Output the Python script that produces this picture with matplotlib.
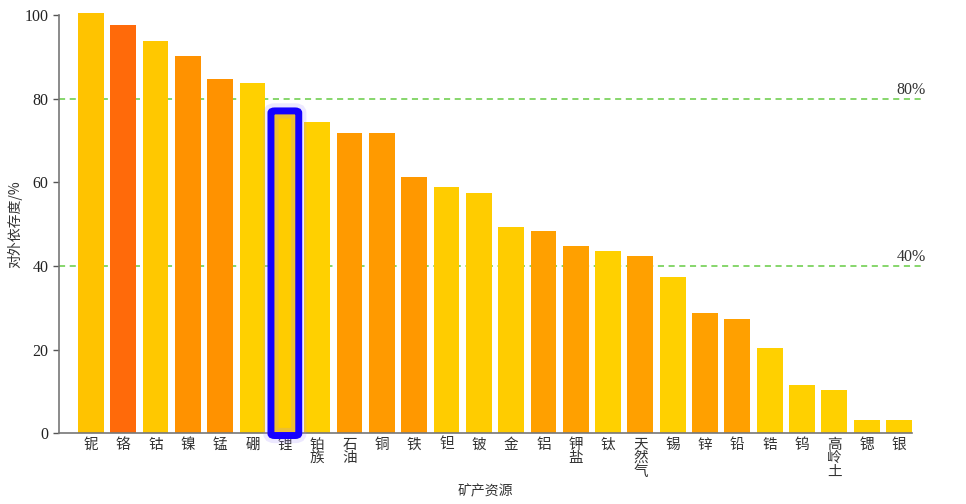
import matplotlib
matplotlib.use('Agg')
import matplotlib.pyplot as plt
from matplotlib.patches import FancyBboxPatch

minerals = ['铌', '铬', '钴', '镍', '锰', '硼', '锂', '铂\n族', '石\n油', '铜', '铁', '钽', '铍',
            '金', '铝', '钾\n盐', '钛', '天\n然\n气', '锡', '锌', '铅', '锆', '钨', '高\n岭\n土', '锶', '银']
dependence = [100.4, 97.6, 93.8, 90.2, 84.7, 83.7, 76.4, 74.5, 71.9, 71.8, 61.3, 58.9, 57.4,
              49.3, 48.4, 44.8, 43.6, 42.4, 37.4, 28.8, 27.3, 20.4, 11.6, 10.5, 3.1, 3.1]
colors = ['#FFC300', '#FF6A0A', '#FFC800', '#FF9200', '#FF9200', '#FFD000', '#FFCC00', '#FFD000',
          '#FF9A00', '#FF9A00', '#FF9800', '#FFCC00', '#FFCC00', '#FFCC00', '#FFA000', '#FFA000',
          '#FFD000', '#FFA000', '#FFD000', '#FFA000', '#FFA000', '#FFD000', '#FFD000', '#FFD000',
          '#FFD000', '#FFD000']
ref_lines = [80, 40]
highlight = 6  # 锂

cjk = ['Noto Sans CJK SC', 'DejaVu Sans']
num_font = 'Liberation Serif'

fig = plt.figure(figsize=(9.66, 5.04), dpi=100)
ax = fig.add_axes([0.061, 0.14, 0.883, 0.83])

x = list(range(len(minerals)))
bars = ax.bar(x, dependence, width=0.8, color=colors, zorder=2)
for b in bars:
    b.set_clip_on(False)

for v in ref_lines:
    ax.axhline(v, xmin=0, xmax=1.015, color='#66CC44', ls=(0, (4, 3)), lw=1.1,
               clip_on=False, zorder=1)
    ax.text(25.37, v + 0.2, f'{v}%', ha='center', va='bottom', fontsize=11.5,
            family=num_font, color='#333333')

ax.set_xlim(-0.99, 25.4)
ax.set_ylim(0, 100)
ax.set_yticks([0, 20, 40, 60, 80, 100])
ax.set_yticklabels(['0', '20', '40', '60', '80', '100'], family=num_font, fontsize=11.5)
ax.set_xticks(x)
ax.set_xticklabels(minerals, family=cjk, fontsize=10.5, va='top', linespacing=0.95)
ax.tick_params(axis='x', length=0, pad=3, colors='#333333')
ax.tick_params(axis='y', length=4, width=1, colors='#555555', labelcolor='#222222')

for s in ['top', 'right']:
    ax.spines[s].set_visible(False)
for s in ['left', 'bottom']:
    ax.spines[s].set_color('#777777')
    ax.spines[s].set_linewidth(1.2)

ax.set_ylabel('对外依存度/%', family=cjk, fontsize=10, color='#333333')
ax.yaxis.set_label_coords(-0.043, 0.5)
ax.set_xlabel('矿产资源', family=cjk, fontsize=10, color='#333333', labelpad=4)

# highlight frame around 锂, with a soft glow
for lw, col, alpha in [(11, '#A48CFF', 0.2), (5, '#1400FF', 1.0)]:
    box = FancyBboxPatch((highlight - 0.43, -0.5), 0.86, 77.6,
                         boxstyle='round,pad=0,rounding_size=0.12',
                         fill=False, ec=col, lw=lw, alpha=alpha, clip_on=False, zorder=5,
                         mutation_aspect=4)
    ax.add_patch(box)

fig.savefig('out.png', dpi=100)
